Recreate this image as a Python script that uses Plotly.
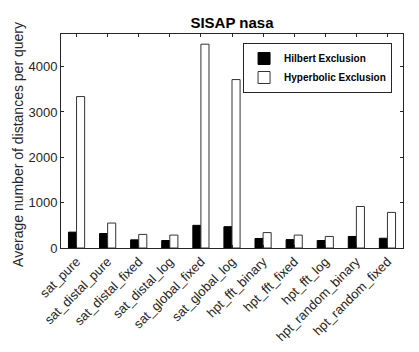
import plotly.graph_objects as go

categories = ["sat_pure", "sat_distal_pure", "sat_distal_fixed", "sat_distal_log",
              "sat_global_fixed", "sat_global_log", "hpt_fft_binary", "hpt_fft_fixed",
              "hpt_fft_log", "hpt_random_binary", "hpt_random_fixed"]
hilbert = [350, 320, 180, 165, 500, 470, 210, 185, 165, 255, 215]
hyperbolic = [3340, 550, 300, 285, 4495, 3715, 340, 285, 255, 915, 785]
y_ticks = [0, 1000, 2000, 3000, 4000]
y_title = "Average number of distances per query"

font_family = "Liberation Sans, Arial, Helvetica, sans-serif"
fig = go.Figure()
fig.add_trace(go.Bar(x=categories, y=hilbert, name="<b>Hilbert Exclusion</b>",
                     marker=dict(color="black", line=dict(color="black", width=1))))
fig.add_trace(go.Bar(x=categories, y=hyperbolic, name="<b>Hyperbolic Exclusion</b>",
                     marker=dict(color="white", line=dict(color="#333333", width=1))))

fig.update_layout(
    width=419, height=352,
    margin=dict(l=61, r=16, t=34, b=104),
    paper_bgcolor="white", plot_bgcolor="white",
    barmode="group", bargap=0.48, bargroupgap=0,
    font=dict(family=font_family, color="#262626", size=13),
    title=dict(text="<b>SISAP nasa</b>", x=0.5, xref="paper", xanchor="center",
               y=1.0, yref="container", yanchor="top", pad=dict(t=17),
               font=dict(size=15, color="black")),
    showlegend=True,
    legend=dict(x=0.968, y=0.958, xanchor="right", yanchor="top",
                bgcolor="white", bordercolor="#262626", borderwidth=1,
                font=dict(size=10, color="black", family=font_family),
                tracegroupgap=0, itemwidth=30),
    xaxis=dict(showline=True, linecolor="#262626", linewidth=1, mirror="ticks",
               ticks="inside", ticklen=3, tickcolor="#262626", tickangle=-45,
               tickfont=dict(size=13, color="#262626"), showgrid=False,
               range=[-0.5, 10.5], automargin=False),
    yaxis=dict(showline=True, linecolor="#262626", linewidth=1, mirror="ticks",
               ticks="inside", ticklen=3, tickcolor="#262626", tickvals=y_ticks,
               tickfont=dict(size=13, color="#262626"), showgrid=False, zeroline=False,
               range=[0, 4720], automargin=False),
    annotations=[dict(text=y_title, xref="paper", yref="paper",
                      x=-0.126, y=0.486, xanchor="center", yanchor="middle",
                      textangle=-90, showarrow=False,
                      font=dict(size=14, color="#262626"))],
)
fig.write_html("out.html", config={"displayModeBar": False},
               post_script="document.body.style.margin='0';")
